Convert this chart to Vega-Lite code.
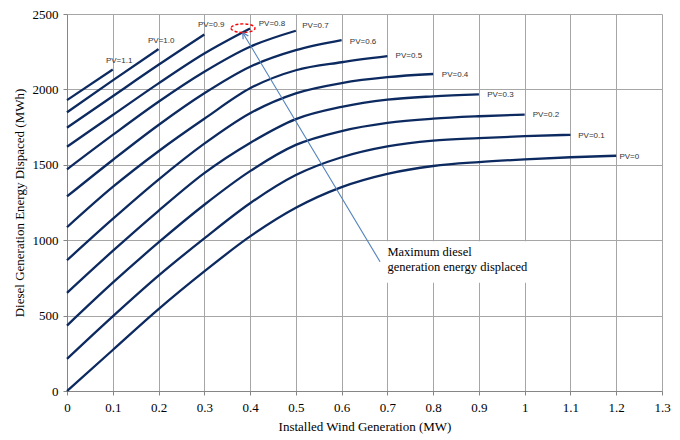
{
  "$schema": "https://vega.github.io/schema/vega-lite/v6.json",
  "autosize": {"type": "none"},
  "width": 595,
  "height": 377,
  "padding": {"left": 67, "top": 14, "right": 18, "bottom": 49},
  "background": "white",
  "config": {
    "view": {"stroke": null},
    "axis": {
      "labelFont": "Liberation Serif",
      "titleFont": "Liberation Serif",
      "labelFontSize": 13,
      "titleFontSize": 13,
      "titleFontWeight": "normal",
      "labelColor": "#000000",
      "titleColor": "#000000",
      "gridColor": "#a6a6a6",
      "gridWidth": 1,
      "domainColor": "#868686",
      "tickColor": "#868686",
      "tickSize": 4
    }
  },
  "datasets": {
    "curves": [
      {"pv": "PV=0", "x": 0, "y": 0}, {"pv": "PV=0", "x": 0.1, "y": 272}, {"pv": "PV=0", "x": 0.2, "y": 543}, {"pv": "PV=0", "x": 0.3, "y": 793}, {"pv": "PV=0", "x": 0.4, "y": 1025}, {"pv": "PV=0", "x": 0.5, "y": 1215}, {"pv": "PV=0", "x": 0.6, "y": 1352}, {"pv": "PV=0", "x": 0.7, "y": 1440}, {"pv": "PV=0", "x": 0.8, "y": 1492}, {"pv": "PV=0", "x": 0.9, "y": 1518}, {"pv": "PV=0", "x": 1.0, "y": 1536}, {"pv": "PV=0", "x": 1.1, "y": 1550}, {"pv": "PV=0", "x": 1.2, "y": 1560},
      {"pv": "PV=0.1", "x": 0, "y": 213}, {"pv": "PV=0.1", "x": 0.1, "y": 495}, {"pv": "PV=0.1", "x": 0.2, "y": 765}, {"pv": "PV=0.1", "x": 0.3, "y": 1012}, {"pv": "PV=0.1", "x": 0.4, "y": 1245}, {"pv": "PV=0.1", "x": 0.5, "y": 1432}, {"pv": "PV=0.1", "x": 0.6, "y": 1550}, {"pv": "PV=0.1", "x": 0.7, "y": 1622}, {"pv": "PV=0.1", "x": 0.8, "y": 1660}, {"pv": "PV=0.1", "x": 0.9, "y": 1677}, {"pv": "PV=0.1", "x": 1.0, "y": 1690}, {"pv": "PV=0.1", "x": 1.1, "y": 1699},
      {"pv": "PV=0.2", "x": 0, "y": 434}, {"pv": "PV=0.2", "x": 0.1, "y": 718}, {"pv": "PV=0.2", "x": 0.2, "y": 985}, {"pv": "PV=0.2", "x": 0.3, "y": 1235}, {"pv": "PV=0.2", "x": 0.4, "y": 1458}, {"pv": "PV=0.2", "x": 0.5, "y": 1632}, {"pv": "PV=0.2", "x": 0.6, "y": 1724}, {"pv": "PV=0.2", "x": 0.7, "y": 1778}, {"pv": "PV=0.2", "x": 0.8, "y": 1806}, {"pv": "PV=0.2", "x": 0.9, "y": 1822}, {"pv": "PV=0.2", "x": 1.0, "y": 1833},
      {"pv": "PV=0.3", "x": 0, "y": 651}, {"pv": "PV=0.3", "x": 0.1, "y": 929}, {"pv": "PV=0.3", "x": 0.2, "y": 1195}, {"pv": "PV=0.3", "x": 0.3, "y": 1445}, {"pv": "PV=0.3", "x": 0.4, "y": 1645}, {"pv": "PV=0.3", "x": 0.5, "y": 1803}, {"pv": "PV=0.3", "x": 0.6, "y": 1884}, {"pv": "PV=0.3", "x": 0.7, "y": 1932}, {"pv": "PV=0.3", "x": 0.8, "y": 1954}, {"pv": "PV=0.3", "x": 0.9, "y": 1967},
      {"pv": "PV=0.4", "x": 0, "y": 867}, {"pv": "PV=0.4", "x": 0.1, "y": 1141}, {"pv": "PV=0.4", "x": 0.2, "y": 1402}, {"pv": "PV=0.4", "x": 0.3, "y": 1640}, {"pv": "PV=0.4", "x": 0.4, "y": 1842}, {"pv": "PV=0.4", "x": 0.5, "y": 1974}, {"pv": "PV=0.4", "x": 0.6, "y": 2042}, {"pv": "PV=0.4", "x": 0.7, "y": 2081}, {"pv": "PV=0.4", "x": 0.8, "y": 2102},
      {"pv": "PV=0.5", "x": 0, "y": 1086}, {"pv": "PV=0.5", "x": 0.1, "y": 1353}, {"pv": "PV=0.5", "x": 0.2, "y": 1590}, {"pv": "PV=0.5", "x": 0.3, "y": 1805}, {"pv": "PV=0.5", "x": 0.4, "y": 2007}, {"pv": "PV=0.5", "x": 0.5, "y": 2127}, {"pv": "PV=0.5", "x": 0.6, "y": 2180}, {"pv": "PV=0.5", "x": 0.7, "y": 2220},
      {"pv": "PV=0.6", "x": 0, "y": 1290}, {"pv": "PV=0.6", "x": 0.1, "y": 1532}, {"pv": "PV=0.6", "x": 0.2, "y": 1764}, {"pv": "PV=0.6", "x": 0.3, "y": 1974}, {"pv": "PV=0.6", "x": 0.4, "y": 2150}, {"pv": "PV=0.6", "x": 0.5, "y": 2260}, {"pv": "PV=0.6", "x": 0.6, "y": 2327},
      {"pv": "PV=0.7", "x": 0, "y": 1470}, {"pv": "PV=0.7", "x": 0.1, "y": 1698}, {"pv": "PV=0.7", "x": 0.2, "y": 1918}, {"pv": "PV=0.7", "x": 0.3, "y": 2117}, {"pv": "PV=0.7", "x": 0.4, "y": 2283}, {"pv": "PV=0.7", "x": 0.5, "y": 2389},
      {"pv": "PV=0.8", "x": 0, "y": 1620}, {"pv": "PV=0.8", "x": 0.1, "y": 1830}, {"pv": "PV=0.8", "x": 0.2, "y": 2040}, {"pv": "PV=0.8", "x": 0.3, "y": 2238}, {"pv": "PV=0.8", "x": 0.4, "y": 2404},
      {"pv": "PV=0.9", "x": 0, "y": 1746}, {"pv": "PV=0.9", "x": 0.1, "y": 1955}, {"pv": "PV=0.9", "x": 0.2, "y": 2163}, {"pv": "PV=0.9", "x": 0.3, "y": 2364},
      {"pv": "PV=1.0", "x": 0, "y": 1848}, {"pv": "PV=1.0", "x": 0.1, "y": 2060}, {"pv": "PV=1.0", "x": 0.2, "y": 2267},
      {"pv": "PV=1.1", "x": 0, "y": 1929}, {"pv": "PV=1.1", "x": 0.1, "y": 2132}
    ],
    "labels": [
      {"t": "PV=1.1", "x": 0.085, "y": 2188},
      {"t": "PV=1.0", "x": 0.177, "y": 2321},
      {"t": "PV=0.9", "x": 0.286, "y": 2428},
      {"t": "PV=0.8", "x": 0.419, "y": 2434},
      {"t": "PV=0.7", "x": 0.514, "y": 2420},
      {"t": "PV=0.6", "x": 0.618, "y": 2316},
      {"t": "PV=0.5", "x": 0.718, "y": 2221},
      {"t": "PV=0.4", "x": 0.819, "y": 2095},
      {"t": "PV=0.3", "x": 0.918, "y": 1961},
      {"t": "PV=0.2", "x": 1.0175, "y": 1830},
      {"t": "PV=0.1", "x": 1.117, "y": 1691},
      {"t": "PV=0", "x": 1.207, "y": 1554}
    ],
    "box": [{"x": 0.684, "x2": 1.018, "y": 993, "y2": 718}],
    "arrow": [{"x": 0.684, "y": 857, "x2": 0.384, "y2": 2376}],
    "head": [{"x": 0.384, "y": 2376}],
    "ring": [{"x": 0.3845, "y": 2406}],
    "note": [
      {"t": "Maximum diesel", "x": 0.7, "y": 895},
      {"t": "generation energy displaced", "x": 0.7, "y": 798}
    ]
  },
  "encoding": {
    "x": {
      "field": "x", "type": "quantitative",
      "scale": {"domain": [0, 1.3], "nice": false, "zero": false},
      "axis": {"title": "Installed Wind Generation (MW)", "values": [0, 0.1, 0.2, 0.3, 0.4, 0.5, 0.6, 0.7, 0.8, 0.9, 1, 1.1, 1.2, 1.3], "format": "~g", "labelPadding": 6, "titlePadding": 6, "labelFlush": false}
    },
    "y": {
      "field": "y", "type": "quantitative",
      "scale": {"domain": [0, 2500], "nice": false},
      "axis": {"title": "Diesel Generation Energy Dispaced (MWh)", "values": [0, 500, 1000, 1500, 2000, 2500], "format": "d", "labelPadding": 5, "titlePadding": 6}
    }
  },
  "layer": [
    {
      "data": {"name": "box"},
      "mark": {"type": "rect", "fill": "white", "stroke": null},
      "encoding": {"x2": {"field": "x2"}, "y2": {"field": "y2"}}
    },
    {
      "data": {"name": "curves"},
      "mark": {"type": "line", "interpolate": "monotone", "color": "#0c2a60", "strokeWidth": 2.3},
      "encoding": {"detail": {"field": "pv"}}
    },
    {
      "data": {"name": "arrow"},
      "mark": {"type": "rule", "color": "#4f81bd", "strokeWidth": 1.1},
      "encoding": {"x2": {"field": "x2"}, "y2": {"field": "y2"}}
    },
    {
      "data": {"name": "head"},
      "mark": {"type": "point", "shape": "M-0.5,0.95L0,0L0.5,0.95", "filled": false, "stroke": "#4f81bd", "strokeWidth": 1.2, "size": 150, "angle": -31, "opacity": 1},
      "encoding": {}
    },
    {
      "data": {"name": "ring"},
      "mark": {"type": "point", "shape": "M-1,0A1,0.36,0,1,0,1,0A1,0.36,0,1,0,-1,0Z", "filled": false, "stroke": "#ff0000", "strokeWidth": 1.4, "strokeDash": [3, 2], "size": 576, "opacity": 1},
      "encoding": {}
    },
    {
      "data": {"name": "labels"},
      "mark": {"type": "text", "align": "left", "baseline": "middle", "font": "Liberation Sans", "fontSize": 8, "color": "#333333"},
      "encoding": {"text": {"field": "t"}}
    },
    {
      "data": {"name": "note"},
      "mark": {"type": "text", "align": "left", "baseline": "alphabetic", "font": "Liberation Serif", "fontSize": 12.5, "color": "#000000"},
      "encoding": {"text": {"field": "t"}}
    }
  ]
}
